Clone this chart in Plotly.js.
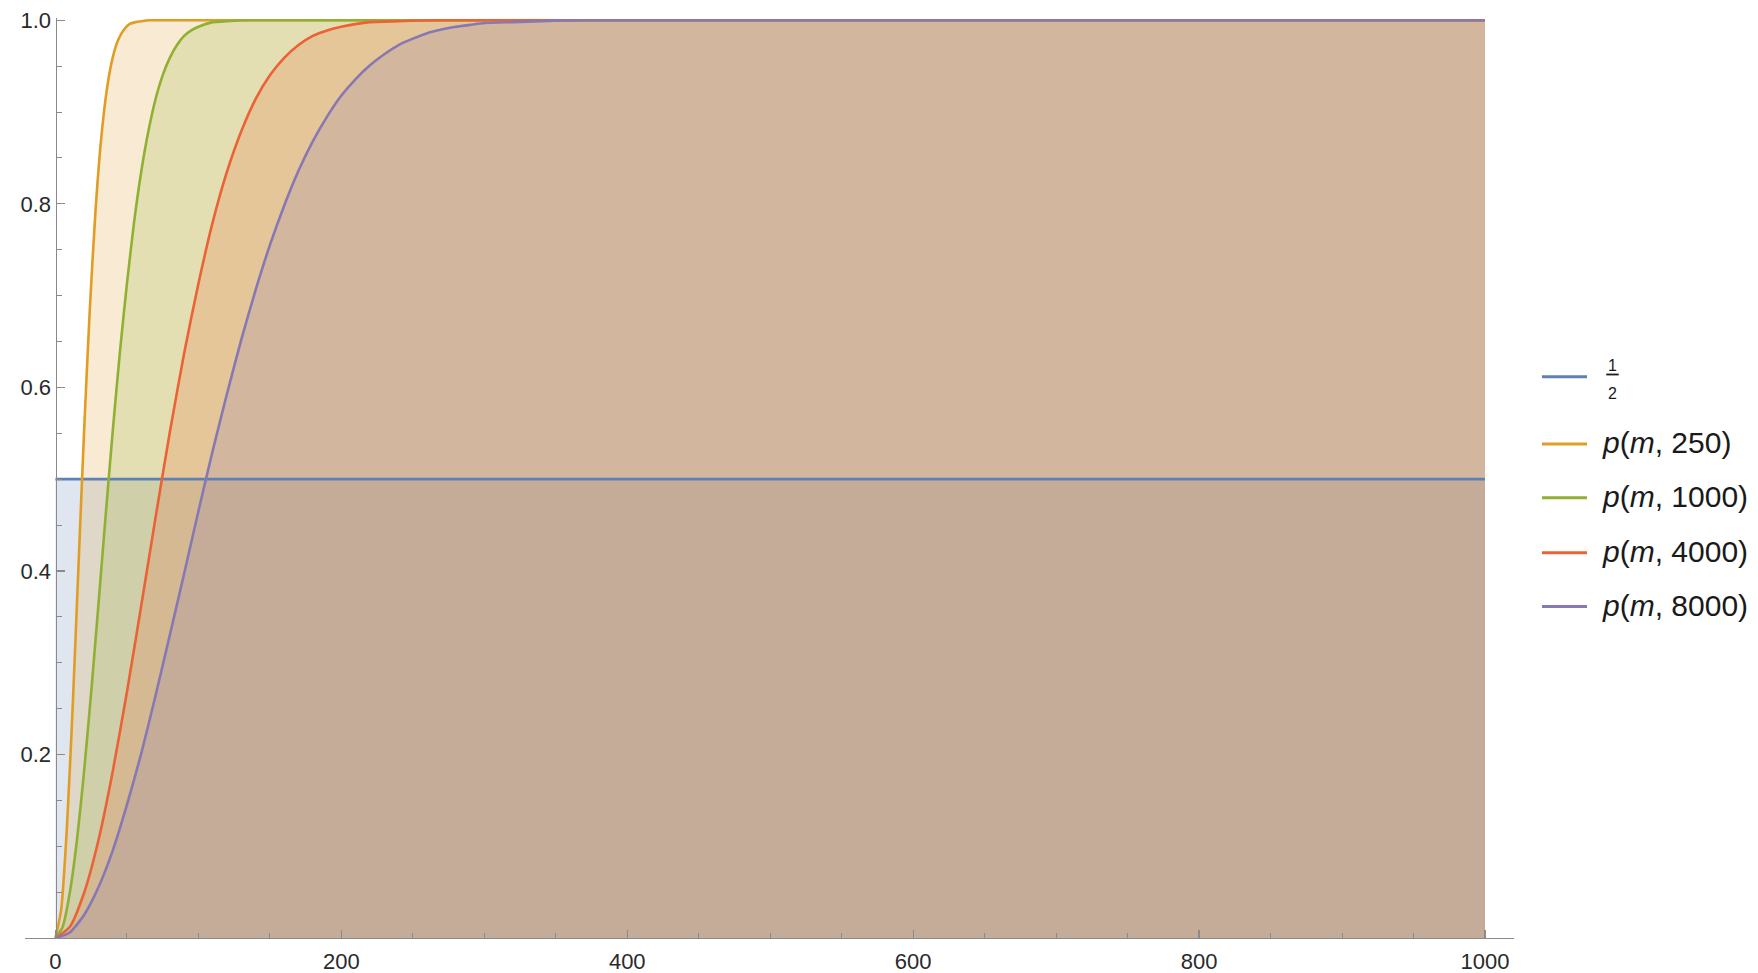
<!DOCTYPE html>
<html>
<head>
<meta charset="utf-8">
<script src="https://cdn.plot.ly/plotly-3.0.1.min.js"></script>
<style>
  html, body { margin: 0; padding: 0; background: #ffffff; }
  #chart { width: 1758px; height: 973px; }
</style>
</head>
<body>
<div id="chart"></div>
<script>
// Birthday-collision probability p(m, n) for several pool sizes n, plotted against m.
const seriesNames = ['1/2', 'p(m, 250)', 'p(m, 1000)', 'p(m, 4000)', 'p(m, 8000)'];
const seriesColors = ['#5E81B5', '#E19C24', '#8FB032', '#EB6235', '#8778B3'];

const halfX = [0, 1000];
const halfY = [0.5, 0.5];

const p250X = [0, 4, 8, 12, 16, 20, 24, 28, 32, 36, 40, 44, 48, 52, 56, 60, 66, 1000];
const p250Y = [0, 0.031, 0.120, 0.250, 0.401, 0.551, 0.684, 0.792, 0.871, 0.925, 0.959, 0.979, 0.990, 0.996, 0.998, 0.999, 1.000, 1.000];

const p1000X = [0, 5, 10, 15, 20, 25, 30, 35, 40, 45, 50, 55, 60, 65, 70, 75, 80, 85, 90, 95, 100, 110, 120, 135, 1000];
const p1000Y = [0, 0.012, 0.049, 0.106, 0.181, 0.268, 0.362, 0.458, 0.551, 0.637, 0.713, 0.780, 0.835, 0.879, 0.914, 0.940, 0.959, 0.973, 0.983, 0.989, 0.993, 0.998, 0.999, 1.000, 1.000];

const p4000X = [0, 10, 20, 30, 40, 50, 60, 70, 80, 90, 100, 110, 120, 130, 140, 150, 160, 170, 180, 190, 200, 220, 240, 270, 1000];
const p4000Y = [0, 0.012, 0.049, 0.106, 0.181, 0.268, 0.362, 0.458, 0.551, 0.637, 0.713, 0.780, 0.835, 0.879, 0.914, 0.940, 0.959, 0.973, 0.983, 0.989, 0.993, 0.998, 0.999, 1.000, 1.000];

const p8000X = [0, 10, 20, 30, 40, 50, 60, 70, 80, 90, 100, 110, 120, 130, 140, 150, 160, 170, 180, 190, 200, 210, 220, 230, 240, 250, 260, 270, 280, 290, 300, 320, 340, 370, 1000];
const p8000Y = [0, 0.006, 0.025, 0.055, 0.095, 0.145, 0.201, 0.264, 0.330, 0.397, 0.465, 0.531, 0.593, 0.652, 0.706, 0.755, 0.798, 0.836, 0.868, 0.895, 0.918, 0.936, 0.951, 0.963, 0.973, 0.980, 0.986, 0.990, 0.993, 0.995, 0.997, 0.998, 0.999, 1.000, 1.000];

const xTickVals = [0, 200, 400, 600, 800, 1000];
const xTickText = ['0', '200', '400', '600', '800', '1000'];
const yTickVals = [0.2, 0.4, 0.6, 0.8, 1.0];
const yTickText = ['0.2', '0.4', '0.6', '0.8', '1.0'];

const xMinorVals = [];
for (let v = 50; v < 1000; v += 50) if (v % 200 !== 0) xMinorVals.push(v);
const yMinorVals = [];
for (let k = 1; k < 20; k++) if (k % 4 !== 0) yMinorVals.push(k * 0.05);

const allX = [halfX, p250X, p1000X, p4000X, p8000X];
const allY = [halfY, p250Y, p1000Y, p4000Y, p8000Y];

function rgba(hex, a) {
  const n = parseInt(hex.slice(1), 16);
  return 'rgba(' + ((n >> 16) & 255) + ',' + ((n >> 8) & 255) + ',' + (n & 255) + ',' + a + ')';
}

// Filled areas first (down to the axis), then the curves on top.
const traces = [];
allX.forEach((xs, i) => {
  traces.push({
    x: xs, y: allY[i], type: 'scatter', mode: 'lines',
    line: { width: 0, shape: 'spline', smoothing: 0.6 },
    fill: 'tozeroy', fillcolor: rgba(seriesColors[i], 0.2),
    hoverinfo: 'skip', showlegend: false
  });
});
allX.forEach((xs, i) => {
  traces.push({
    x: xs, y: allY[i], type: 'scatter', mode: 'lines',
    line: { color: seriesColors[i], width: 2.6, shape: 'spline', smoothing: 0.6 },
    name: seriesNames[i], hoverinfo: 'skip', showlegend: false
  });
});

// Page geometry
const W = 1758, H = 973;
const M = { l: 25, r: 244, t: 18, b: 35 };
const plotW = W - M.l - M.r, plotH = H - M.t - M.b;
const px = x => (x - M.l) / plotW;
const py = y => 1 - (y - M.t) / plotH;

const axisColor = '#8a8a8a';
const fontFamily = 'Liberation Sans, Arial, sans-serif';
const tickFont = { family: fontFamily, size: 22, color: '#2a2a2a' };
const legendFont = { family: fontFamily, size: 30, color: '#1a1a1a' };
const fracFont = { family: fontFamily, size: 16, color: '#1a1a1a' };

// Legend: swatch lines and labels
const legendRows = [376.7, 444, 497.8, 552.7, 606.6];
const shapes = [];
const annotations = [];
legendRows.forEach((ry, i) => {
  shapes.push({
    type: 'line', xref: 'paper', yref: 'paper',
    x0: px(1542), x1: px(1587), y0: py(ry), y1: py(ry),
    line: { color: seriesColors[i], width: 3 }
  });
  if (i === 0) {
    annotations.push({ xref: 'paper', yref: 'paper', x: px(1612.5), y: py(365.3), text: '1',
      showarrow: false, xanchor: 'center', yanchor: 'middle', font: fracFont });
    annotations.push({ xref: 'paper', yref: 'paper', x: px(1612.8), y: py(393.3), text: '2',
      showarrow: false, xanchor: 'center', yanchor: 'middle', font: fracFont });
    shapes.push({ type: 'line', xref: 'paper', yref: 'paper',
      x0: px(1606.3), x1: px(1618.7), y0: py(374.5), y1: py(374.5),
      line: { color: '#1a1a1a', width: 1.8 } });
  } else {
    const parts = seriesNames[i].match(/^p\(m, (\d+)\)$/);
    annotations.push({ xref: 'paper', yref: 'paper', x: px(1600), y: py(ry - 1),
      text: '<i>p</i>(<i>m</i>, ' + parts[1] + ')',
      showarrow: false, xanchor: 'left', yanchor: 'middle', font: legendFont });
  }
});

const axisCommon = {
  showline: true, linecolor: axisColor, linewidth: 1.2,
  ticks: 'inside', tickcolor: axisColor, tickwidth: 1.2, ticklen: 8,
  showgrid: false, zeroline: false, tickfont: tickFont, tickmode: 'array',
  fixedrange: true
};

const layout = {
  width: W, height: H,
  margin: M,
  paper_bgcolor: '#ffffff', plot_bgcolor: 'rgba(0,0,0,0)',
  showlegend: false,
  xaxis: Object.assign({}, axisCommon, {
    range: [-21.3, 1020.3],
    tickvals: xTickVals, ticktext: xTickText,
    ticklabelstandoff: 3,
    minor: { tickmode: 'array', tickvals: xMinorVals, ticks: 'inside', ticklen: 5, tickwidth: 1, tickcolor: axisColor, showgrid: false }
  }),
  yaxis: Object.assign({}, axisCommon, {
    range: [0, 1.0025],
    anchor: 'free', position: px(55.5),
    tickvals: yTickVals, ticktext: yTickText,
    minor: { tickmode: 'array', tickvals: yMinorVals, ticks: 'inside', ticklen: 5, tickwidth: 1, tickcolor: axisColor, showgrid: false }
  }),
  shapes: shapes,
  annotations: annotations
};

Plotly.newPlot('chart', traces, layout, { staticPlot: true, displayModeBar: false });
</script>
</body>
</html>
